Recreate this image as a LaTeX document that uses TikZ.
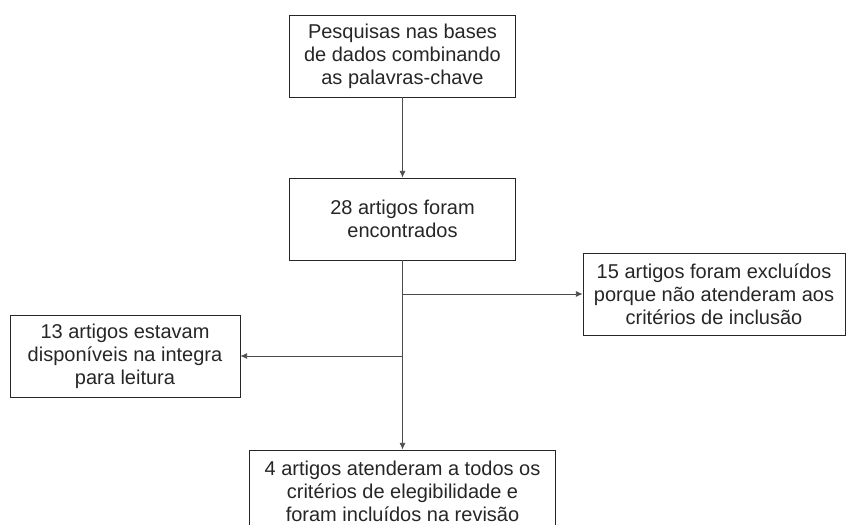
\documentclass[tikz,border=0pt]{standalone}
\usepackage{fontspec}
\setmainfont{Liberation Sans}
\usetikzlibrary{arrows.meta,positioning}

\tikzset{
  caixa/.style={draw=black!85, line width=0.6pt, align=center, minimum height=61.5pt, inner sep=2pt,
    font=\fontsize{15pt}{17.25pt}\selectfont, text=black!85},
  seta/.style={draw=black!70, line width=0.6pt, -{Latex[length=5pt,width=4.5pt]}}
}

\begin{document}
\begin{tikzpicture}[x=0.75pt,y=-0.75pt]
  \useasboundingbox (0,0) rectangle (848,524);
  \node[caixa, minimum width=170pt] (busca) at (402.5,56) {Pesquisas nas bases\\de dados combinando\\as palavras-chave};
  \node[caixa, minimum width=170pt] (encontrados) at (402.5,219) {28 artigos foram\\encontrados};
  \node[caixa, minimum width=196.5pt] (excluidos) at (714,294) {15 artigos foram excluídos\\porque não atenderam aos\\critérios de inclusão};
  \node[caixa, minimum width=172.5pt] (integra) at (125,356) {13 artigos estavam\\disponíveis na integra\\para leitura};
  \node[caixa, minimum width=229pt] (incluidos) at (402.5,491) {4 artigos atenderam a todos os\\critérios de elegibilidade e\\foram incluídos na revisão};

  \coordinate (ramo1) at (encontrados.south |- excluidos.west);
  \coordinate (ramo2) at (encontrados.south |- integra.east);

  \draw[seta] (busca) -- (encontrados);
  \draw[seta] (encontrados.south) -- (incluidos.north);
  \draw[seta] (ramo1) -- (excluidos.west);
  \draw[seta] (ramo2) -- (integra.east);
\end{tikzpicture}
\end{document}
